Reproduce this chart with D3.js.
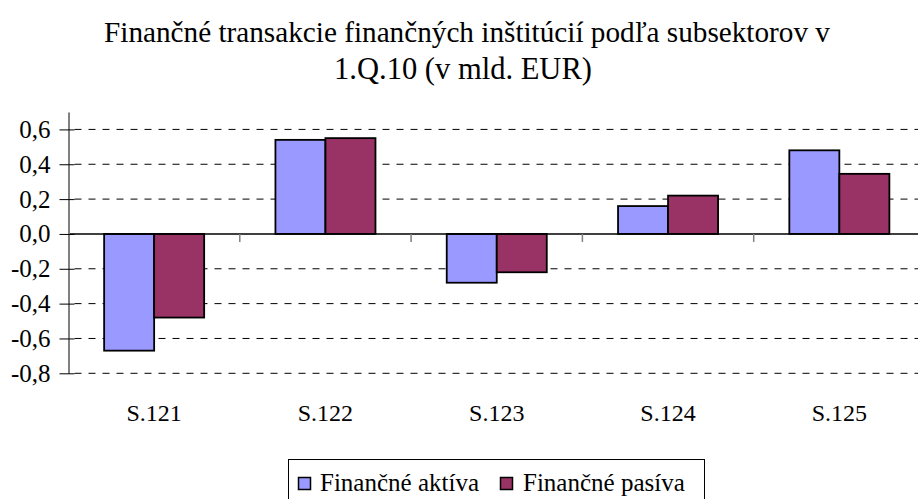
<!DOCTYPE html>
<html><head><meta charset="utf-8">
<script src="https://cdn.jsdelivr.net/npm/d3@7"></script>
</head>
<body style="margin:0">
<svg id="s" width="918" height="499" font-family="Times New Roman"></svg>
<script>
const titleLines = ["Finančné transakcie finančných inštitúcií podľa subsektorov v", "1.Q.10 (v mld. EUR)"];
const categories = ["S.121", "S.122", "S.123", "S.124", "S.125"];
const seriesNames = ["Finančné aktíva", "Finančné pasíva"];
const aktiva = [-0.67, 0.54, -0.28, 0.16, 0.48];
const pasiva = [-0.48, 0.55, -0.22, 0.22, 0.345];
const yTickValues = [-0.8, -0.6, -0.4, -0.2, 0.0, 0.2, 0.4, 0.6];
const yTickLabels = ["-0,8", "-0,6", "-0,4", "-0,2", "0,0", "0,2", "0,4", "0,6"];
const seriesColors = ["#9999FF", "#993366"];

const FAM = "Times New Roman";
const svg = d3.select("#s");
const W = 918;
const plot = {left: 68.5, right: 925, top: 112, bottom: 373.3};

// start-anchored text, positioned by measured width
function label(parent, str, size, cx, yy, align) {
  const t = parent.append("text").attr("x", 0).attr("y", yy)
    .attr("font-size", size).style("font-family", FAM).text(str);
  const w = t.node().getComputedTextLength();
  const x = align === "middle" ? cx - w / 2 : align === "end" ? cx - w : cx;
  t.attr("x", x);
  return t;
}

// Title, sized to fit the reference line widths
function fitTitle(str, targetW, cx, yy) {
  const t = svg.append("text").attr("x", 0).attr("y", yy).attr("font-size", 28)
    .style("font-family", FAM).text(str);
  const w = t.node().getComputedTextLength();
  const fs = 28 * targetW / w;
  t.attr("font-size", fs);
  const w2 = t.node().getComputedTextLength();
  t.attr("x", cx - w2 / 2);
}
fitTitle(titleLines[0], 726, 467, 42);
fitTitle(titleLines[1], 258, 463, 79);

const y = d3.scaleLinear().domain([-0.8, 0.7]).range([plot.bottom, plot.top]);
const x0 = d3.scaleBand().domain(categories).range([plot.left, plot.right])
  .paddingInner(0.416).paddingOuter(0.208);
const x1 = d3.scaleBand().domain(seriesNames).range([0, x0.bandwidth()]);

// Gridlines (dashed), except zero
svg.append("g").selectAll("line").data(yTickValues.filter(v => v !== 0)).join("line")
  .attr("x1", plot.left + 6).attr("x2", W)
  .attr("y1", d => y(d)).attr("y2", d => y(d))
  .attr("stroke", "#000").attr("stroke-width", 1).attr("stroke-dasharray", "7,7");

// Bars
const g = svg.append("g");
categories.forEach((c, i) => {
  [aktiva[i], pasiva[i]].forEach((v, j) => {
    g.append("rect")
      .attr("x", x0(c) + x1(seriesNames[j]))
      .attr("width", x1.bandwidth())
      .attr("y", y(Math.max(0, v)))
      .attr("height", Math.abs(y(v) - y(0)))
      .attr("fill", seriesColors[j])
      .attr("stroke", "#000").attr("stroke-width", 1.8);
  });
});

// Zero line
svg.append("line").attr("x1", plot.left).attr("x2", W)
  .attr("y1", y(0)).attr("y2", y(0)).attr("stroke", "#000").attr("stroke-width", 1.5);

// Category boundary ticks
const step = x0.step();
const bounds = categories.slice(1).map(c => x0(c) - step * x0.paddingInner() / 2);
svg.append("g").selectAll("line").data(bounds).join("line")
  .attr("x1", d => d).attr("x2", d => d)
  .attr("y1", y(0)).attr("y2", y(0) + 8)
  .attr("stroke", "#808080").attr("stroke-width", 1.5);

// Y axis line and ticks (drawn with the axis generator, labels drawn separately)
const yAxis = d3.axisLeft(y).tickValues(yTickValues).tickSizeInner(9).tickSizeOuter(0).tickFormat("");
const ya = svg.append("g").attr("transform", `translate(${plot.left},0)`).call(yAxis);
ya.attr("font-family", null).attr("font-size", null);
ya.selectAll(".tick text").remove();
ya.select(".domain").attr("stroke", "#808080").attr("stroke-width", 2);
ya.selectAll(".tick line").attr("stroke", "#000").attr("x2", -9).attr("x1", 6);

const yl = svg.append("g");
yTickValues.forEach((v, i) => label(yl, yTickLabels[i], 25, plot.left - 18, y(v) + 8.5, "end"));

// X labels
const xl = svg.append("g");
categories.forEach(c => label(xl, c, 24, x0(c) + x0.bandwidth() / 2, 421, "middle"));

// Legend
const lg = svg.append("g");
lg.append("rect").attr("x", 288.5).attr("y", 459.5).attr("width", 416).attr("height", 60)
  .attr("fill", "#fff").attr("stroke", "#000").attr("stroke-width", 1);
const legendItems = [{x: 298, tx: 320}, {x: 500, tx: 523}];
seriesNames.forEach((s, i) => {
  lg.append("rect").attr("x", legendItems[i].x + 0.5).attr("y", 477.5).attr("width", 12).attr("height", 12)
    .attr("fill", seriesColors[i]).attr("stroke", "#000").attr("stroke-width", 1.5);
  label(lg, s, 25, legendItems[i].tx, 491, "start");
});
</script>
</body></html>
